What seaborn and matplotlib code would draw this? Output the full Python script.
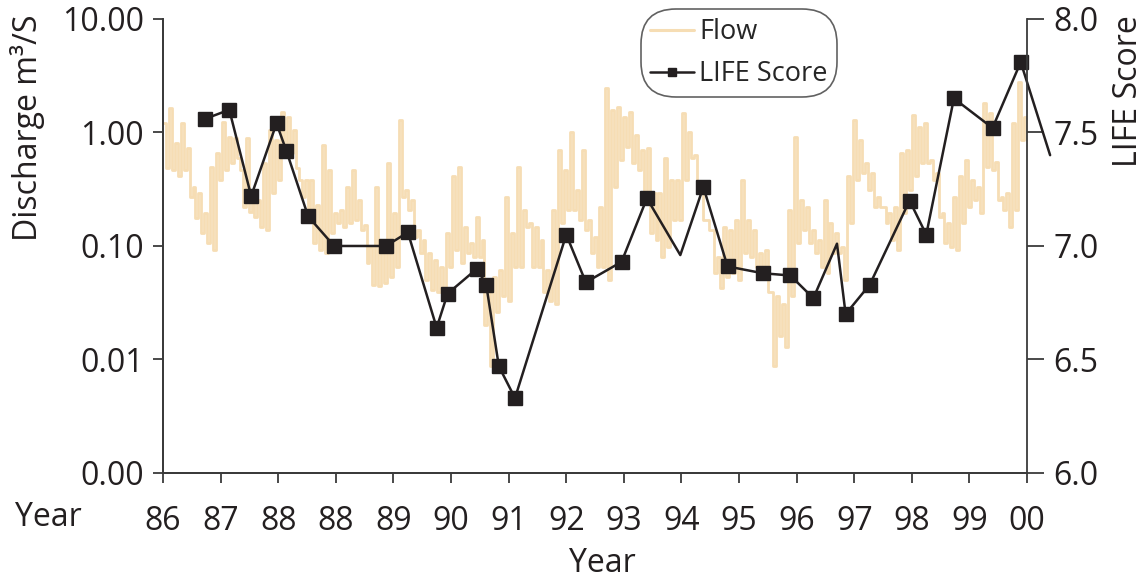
import numpy as np
import pandas as pd
import seaborn as sns
import matplotlib.pyplot as plt
from matplotlib.lines import Line2D
from matplotlib.ticker import FuncFormatter

# eje x en unidades de marca (0 = primera marca "86", 15 = "00")
tick_labels = ["86", "87", "88", "88", "89", "90", "91", "92", "93", "94",
               "95", "96", "97", "98", "99", "00"]

# caudal (m3/s), pares alto/bajo
flow = [
    1.21, 0.49, 1.64, 0.47, 0.81, 0.41, 1.21, 0.47, 0.73, 0.27, 0.33, 0.178,
    0.29, 0.13, 0.195, 0.106, 0.50, 0.092, 0.66, 0.38, 1.24, 0.47, 0.91, 0.54,
    0.89, 0.60, 0.47, 0.22, 0.89, 0.20, 0.29, 0.18, 0.254, 0.147, 0.54, 0.138,
    1.05, 0.29, 0.86, 0.38, 1.52, 0.61,
    1.37, 0.66, 1.05, 0.49, 0.38, 0.27, 0.38, 0.195, 0.38, 0.106, 0.23, 0.092,
    0.78, 0.087, 0.47, 0.13, 0.195, 0.16, 0.207, 0.147, 0.33, 0.16, 0.47, 0.169,
    0.254, 0.138, 0.153, 0.071, 0.098, 0.045, 0.33, 0.044, 0.098, 0.047,
    0.54, 0.053, 0.195, 0.065, 1.29, 0.27, 0.31, 0.207,
    0.254, 0.12, 0.138, 0.087, 0.113, 0.050, 0.087, 0.041, 0.075, 0.039,
    0.065, 0.041, 0.13, 0.065, 0.41, 0.092, 0.50, 0.071, 0.147, 0.087,
    0.106, 0.080, 0.18, 0.080, 0.113, 0.020, 0.050, 0.0087, 0.053, 0.026,
    0.061, 0.036, 0.27, 0.033, 0.13, 0.065, 0.50, 0.065, 0.207, 0.147, 0.16, 0.065,
    0.147, 0.065, 0.113, 0.039, 0.061, 0.033, 0.207, 0.031, 0.70, 0.16,
    0.47, 0.207, 1.01, 0.207, 0.31, 0.169, 0.70, 0.138, 0.169, 0.087,
    0.12, 0.065, 0.22, 0.065, 2.47, 0.050, 1.58, 0.33, 1.68, 0.57, 1.37, 0.75,
    1.52, 0.54, 0.95, 0.47, 0.70, 0.29, 0.73, 0.13, 0.29, 0.113,
    0.29, 0.080, 0.60, 0.098, 0.38, 0.169, 0.38, 0.169, 1.49, 0.38, 1.01, 0.60,
    0.63, 0.31, 0.33, 0.169, 0.169, 0.138, 0.138, 0.058, 0.080, 0.043,
    0.147, 0.053, 0.138, 0.058, 0.169, 0.050, 0.38, 0.087, 0.169, 0.080,
    0.138, 0.065, 0.087, 0.061, 0.092, 0.039, 0.039, 0.0087, 0.036, 0.016,
    0.031, 0.013, 0.207, 0.036, 0.91, 0.106, 0.254, 0.138, 0.22, 0.106,
    0.138, 0.087, 0.113, 0.065, 0.254, 0.058, 0.16, 0.087, 0.13, 0.087,
    0.098, 0.050, 0.41, 0.16, 1.29, 0.38, 0.86, 0.44, 0.54, 0.31, 0.44, 0.22,
    0.27, 0.22, 0.22, 0.16, 0.195, 0.113, 0.22, 0.092, 0.66, 0.195,
    0.70, 0.31, 1.42, 0.41, 1.12, 0.54, 1.21, 0.54, 0.57, 0.38, 0.44, 0.18,
    0.195, 0.106, 0.16, 0.098, 0.27, 0.092, 0.41, 0.16, 0.57, 0.22, 0.38, 0.254,
    0.33, 0.195, 1.82, 0.50, 1.49, 0.47, 0.55, 0.254, 0.27, 0.207, 0.29, 0.147,
    1.21, 0.207, 2.8, 0.86, 1.37, 0.86,
]

life_x = [0.73, 1.15, 1.53, 1.97, 2.14, 2.52, 2.97, 3.87, 4.25, 4.75, 4.94,
          5.45, 5.61, 5.83, 6.11, 7.00, 7.34, 7.96, 8.40, 8.98, 9.38, 9.80,
          10.41, 10.89, 11.29, 11.70, 11.85, 12.27, 12.96, 13.25, 13.73,
          14.40, 14.89, 15.40]
life_score = [7.56, 7.60, 7.22, 7.54, 7.42, 7.13, 7.00, 7.00, 7.06, 6.64, 6.79,
              6.90, 6.83, 6.47, 6.33, 7.05, 6.84, 6.93, 7.21, 6.96, 7.26, 6.91,
              6.88, 6.87, 6.77, 7.01, 6.70, 6.83, 7.20, 7.05, 7.65,
              7.52, 7.81, 7.40]
life_sampled = [True] * 19 + [False] + [True] * 5 + [False] + [True] * 7 + [False]

sns.set_theme(style="white")
plt.rcParams["font.family"] = ["Open Sans", "DejaVu Sans"]

flow_color = "#F6DDB4"
life_color = "#231F20"
axis_color = "#3A3A3A"
txt = "#231F20"

df_flow = pd.DataFrame({"x": np.linspace(0, 15, len(flow)), "flow": flow})
df_life = pd.DataFrame({"x": life_x, "score": life_score, "sampled": life_sampled})

fig = plt.figure(figsize=(11.45, 5.82), dpi=100)
ax = fig.add_axes([0.1424, 0.1873, 0.7546, 0.7801])
sns.lineplot(data=df_flow, x="x", y="flow", ax=ax, color=flow_color, lw=2.0,
             drawstyle="steps-post", estimator=None, sort=False)
ax.set_yscale("log")
ax.set_ylim(0.001, 10)
ax.set_xlim(0, 15)
ax.minorticks_off()
ax.yaxis.set_major_formatter(FuncFormatter(lambda v, p: f"{v:.2f}"))
ax.set_xticks(range(len(tick_labels)))
ax.set_xticklabels(tick_labels)

ax2 = ax.twinx()
sns.lineplot(data=df_life, x="x", y="score", ax=ax2, color=life_color, lw=1.8,
             estimator=None, sort=False, clip_on=False)
pts = df_life[df_life["sampled"]]
ax2.plot(pts["x"], pts["score"], ls="none", marker="s", ms=9.5,
         color=life_color, clip_on=False)
ax2.set_ylim(6.0, 8.0)
ax2.set_yticks([6.0, 6.5, 7.0, 7.5, 8.0])
ax2.set_yticklabels(["6.0", "6.5", "7.0", "7.5", "8.0"])

for a in (ax, ax2):
    for s in a.spines.values():
        s.set_color(axis_color)
        s.set_linewidth(1.3)
    a.spines["top"].set_visible(False)
    a.tick_params(colors=axis_color, labelcolor=txt, labelsize=23,
                  width=1.3, length=7, direction="out", pad=7)
    a.set_xlabel("")
    a.set_ylabel("")
ax.spines["right"].set_visible(False)
ax2.tick_params(axis="y", length=12, right=True)
ax.tick_params(axis="x", pad=16, bottom=True)
ax.tick_params(axis="y", left=True)

ax.set_ylabel("Discharge m³/S", fontsize=23, color=txt)
ax.yaxis.set_label_coords(-0.137, 0.76)
ax2.set_ylabel("LIFE Score", fontsize=23, color=txt)
ax2.yaxis.set_label_coords(1.098, 0.84)
ax.set_xlabel("Year", fontsize=23, color=txt)
ax.xaxis.set_label_coords(0.509, -0.163)
ax.text(-0.171, -0.097, "Year", transform=ax.transAxes, fontsize=23,
        color=txt, ha="left", va="center")

handles = [Line2D([], [], color=flow_color, lw=2.2),
           Line2D([], [], color=life_color, lw=1.8, marker="s", ms=6)]
leg = ax2.legend(handles, ["Flow", "LIFE Score"], loc="upper left",
                 bbox_to_anchor=(0.553, 1.022), borderaxespad=0, fontsize=19.5,
                 frameon=True, fancybox=True, handlelength=1.6,
                 handletextpad=0.2, labelspacing=0.5, borderpad=0.35)
frame = leg.get_frame()
frame.set_edgecolor(axis_color)
frame.set_linewidth(1.2)
frame.set_boxstyle("round,pad=0.0,rounding_size=1.3")

fig.savefig("out.png", dpi=100)
